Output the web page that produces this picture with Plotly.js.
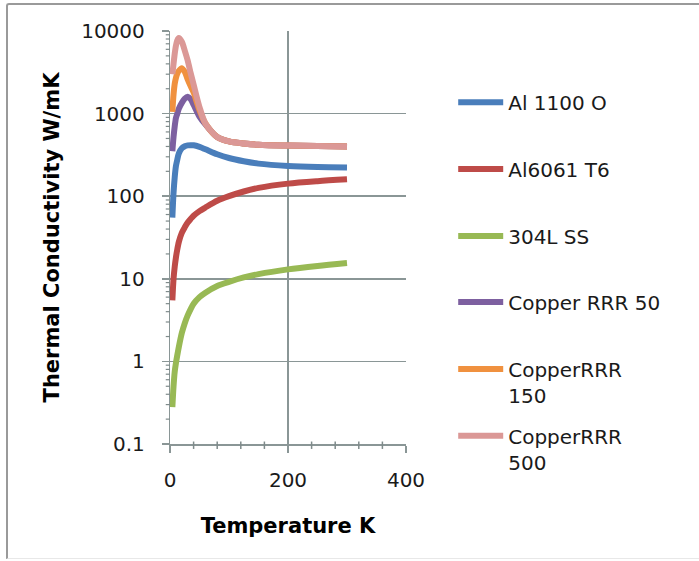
<!DOCTYPE html>
<html>
<head>
<meta charset="utf-8">
<script src="https://cdn.plot.ly/plotly-3.0.1.min.js"></script>
<style>
html,body{margin:0;padding:0;background:#fff;}
#frame{position:absolute;left:0;top:0;width:699px;height:561px;overflow:hidden;}
#border{position:absolute;left:6px;top:3px;width:700px;height:556px;border-top:2px solid #9a9a9a;border-left:2px solid #9a9a9a;border-bottom:1px solid #e8e8e8;box-sizing:border-box;border-top-left-radius:3px;}
#chart{position:absolute;left:0;top:0;width:699px;height:561px;}
</style>
</head>
<body>
<div id="frame"><div id="border"></div><div id="chart"></div></div>
<script>
// Temperature (K)
const temperature = [4, 6, 8, 10, 12, 15, 20, 25, 30, 35, 40, 50, 60, 80, 100, 125, 150, 200, 250, 300];
// Thermal conductivity (W/mK)
const al1100O   = [55, 110, 170, 230, 270, 330, 380, 402, 412, 415, 413, 395, 370, 322, 290, 265, 248, 232, 225, 222];
const al6061T6  = [5.5, 10, 14, 18, 22, 28, 36, 42, 48, 53, 58, 66, 73, 88, 100, 114, 126, 142, 152, 160];
const ss304L    = [0.28, 0.5, 0.75, 0.95, 1.15, 1.5, 2.2, 2.9, 3.6, 4.3, 5.0, 6.0, 6.8, 8.2, 9.2, 10.4, 11.4, 13.0, 14.3, 15.5];
const cuRRR50   = [350, 520, 700, 880, 980, 1150, 1350, 1520, 1600, 1500, 1280, 920, 740, 520, 460, 435, 420, 410, 405, 400];
const cuRRR150  = [1050, 1700, 2300, 2700, 3000, 3300, 3550, 3200, 2600, 2150, 1800, 1100, 760, 520, 460, 435, 420, 410, 405, 400];
const cuRRR500  = [3000, 4000, 5300, 6600, 7600, 8200, 7400, 5800, 4400, 3100, 2250, 1200, 760, 520, 460, 435, 420, 410, 405, 400];

const seriesNames  = ["Al 1100 O", "Al6061 T6", "304L SS", "Copper RRR 50", "CopperRRR<br>150", "CopperRRR<br>500"];
const seriesValues = [al1100O, al6061T6, ss304L, cuRRR50, cuRRR150, cuRRR500];
const seriesColors = ["#4A7EBB", "#BE4B48", "#98B954", "#7D60A0", "#F0913F", "#DB9896"];

// Axis ticks: x 0..400 every 200 (minor every 40); y log decades 0.1..10000
const xTickVals = [0, 200, 400];
const xMinorStep = 40;
const yTickVals = [0.1, 1, 10, 100, 1000, 10000];

const axisColor = "#8A9696";
const minorColor = "#7F8B8B";
const FONT = "DejaVu Sans, Verdana, sans-serif";

const xRange = [xTickVals[0], xTickVals[xTickVals.length - 1]];
const yRange = [Math.log10(yTickVals[0]), Math.log10(yTickVals[yTickVals.length - 1])];

// minor tick positions derived from the axis ticks, expressed as axis fractions
const xMinorFrac = [];
for (let v = xRange[0] + xMinorStep; v < xRange[1]; v += xMinorStep)
  if (!xTickVals.includes(v)) xMinorFrac.push((v - xRange[0]) / (xRange[1] - xRange[0]));
const yMinorFrac = [];
yTickVals.slice(0, -1).forEach(v => {
  for (let k = 2; k <= 9; k++) yMinorFrac.push((Math.log10(k * v) - yRange[0]) / (yRange[1] - yRange[0]));
});

const legendIds = ["legend", "legend2", "legend3", "legend4", "legend5", "legend6"];
const legendTop = [1.0, 0.838, 0.676, 0.516, 0.354, 0.192];

const traces = seriesValues.map((vals, i) => ({
  type: "scatter", mode: "lines",
  x: temperature, y: vals,
  name: seriesNames[i],
  legend: legendIds[i],
  line: {color: seriesColors[i], width: 6, shape: "spline", smoothing: 0.8}
}));

const minorShapes = [
  ...xMinorFrac.map(f => ({type: "line", xref: "paper", yref: "paper", layer: "above",
                           x0: f, x1: f, y0: 0.006, y1: -0.012,
                           line: {color: minorColor, width: 1.5}})),
  ...yMinorFrac.map(f => ({type: "line", xref: "paper", yref: "paper", layer: "above",
                           x0: 0, x1: -0.018, y0: f, y1: f,
                           line: {color: minorColor, width: 1.2}}))
];

const layout = {
  width: 699, height: 561,
  margin: {l: 170, r: 293, t: 31, b: 117},
  paper_bgcolor: "rgba(0,0,0,0)", plot_bgcolor: "rgba(0,0,0,0)",
  font: {family: FONT, size: 20, color: "#1a1a1a"},
  showlegend: true,
  shapes: minorShapes,
  xaxis: {
    range: xRange, dtick: xTickVals[1] - xTickVals[0],
    showgrid: true, gridcolor: axisColor, gridwidth: 1.5,
    showline: true, linecolor: axisColor, linewidth: 1.5,
    zeroline: false,
    ticks: "outside", ticklen: 7, tickcolor: axisColor, tickwidth: 1.5,
    ticklabelstandoff: 10,
    tickfont: {family: FONT, size: 20, color: "#1a1a1a"},
    title: {text: "Temperature K", font: {family: FONT, size: 21, color: "#000", weight: "bold"}, standoff: 28}
  },
  yaxis: {
    type: "log", range: yRange, dtick: 1, tickformat: "~g", ticksuffix: "\u00a0\u00a0",
    showgrid: true, gridcolor: axisColor, gridwidth: 1.5,
    showline: true, linecolor: axisColor, linewidth: 1.5,
    zeroline: false,
    ticks: "outside", ticklen: 7, tickcolor: axisColor, tickwidth: 1.5,
    tickfont: {family: FONT, size: 20, color: "#1a1a1a"},
    title: {text: "Thermal Conductivity W/mK", font: {family: FONT, size: 21, color: "#000", weight: "bold"}, standoff: 16}
  }
};
legendIds.forEach((id, i) => {
  layout[id] = {
    x: 1.2, xanchor: "left", y: legendTop[i] - 0.125, yanchor: "top",
    bgcolor: "rgba(0,0,0,0)", borderwidth: 0,
    font: {family: FONT, size: 20, color: "#1a1a1a"},
    valign: "top", itemwidth: 45
  };
});

Plotly.newPlot("chart", traces, layout, {displayModeBar: false, staticPlot: true});
</script>
</body>
</html>
